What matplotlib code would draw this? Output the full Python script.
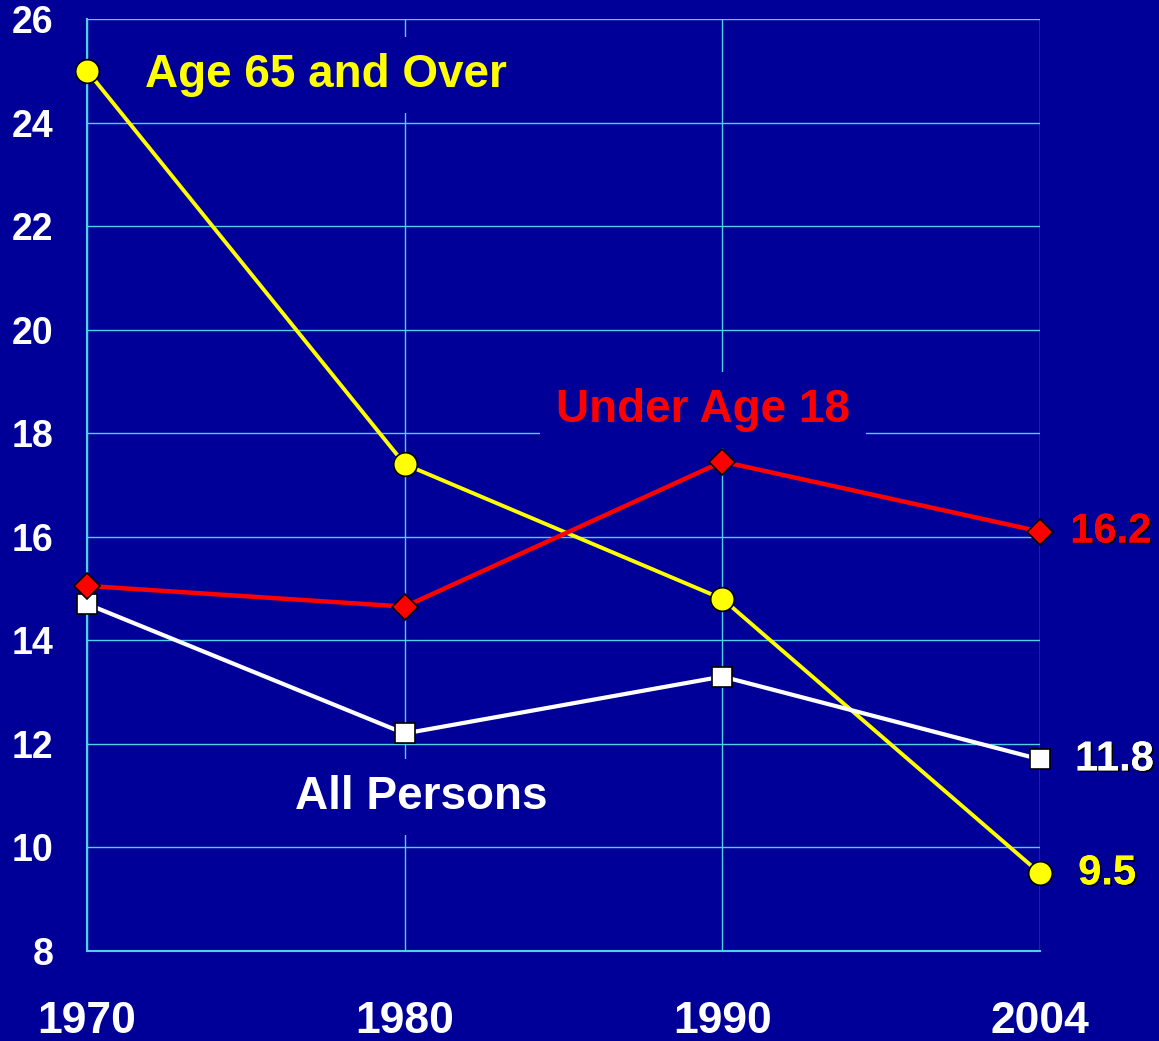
import matplotlib.pyplot as plt
import matplotlib.patheffects as pe

years = ['1970', '1980', '1990', '2004']
age65 = [25.0, 17.4, 14.8, 9.5]
under18 = [15.05, 14.65, 17.45, 16.1]
all_persons = [14.7, 12.2, 13.3, 11.7]
end_labels = ['9.5', '16.2', '11.8']

bg = '#000099'
grid_c = '#4fcfe8'

plt.rcParams['font.family'] = ['Liberation Sans', 'DejaVu Sans']
plt.rcParams['font.weight'] = 'bold'

fig = plt.figure(figsize=(11.59, 10.41), dpi=100, facecolor=bg)
ax = fig.add_axes([0.0751, 0.0865, 0.8223, 0.8953], facecolor=bg)

x = range(len(years))

# draw order: yellow, white, red
ax.plot(x, age65, color='#ffff00', lw=2.8, marker='o', ms=17,
        mfc='#ffff00', mec='black', mew=1.2, zorder=3, clip_on=False)
ax.plot(x, all_persons, color='white', lw=3.0, marker='s', ms=15,
        mfc='white', mec='black', mew=1.2, zorder=4, clip_on=False)
ax.plot(x, under18, color='#ff0000', lw=3.2, marker='D', ms=13,
        mfc='#ff0000', mec='black', mew=1.2, zorder=5, clip_on=False)

ax.set_xlim(0, 3)
ax.set_ylim(8, 26)
ax.set_xticks(list(x))
ax.set_xticklabels(years, fontsize=32, color='white', fontweight='bold')
ax.set_yticks(range(8, 27, 2))
ax.set_yticklabels([str(v) for v in range(8, 27, 2)], fontsize=27,
                   color='white', fontweight='bold')
ax.tick_params(axis='x', length=0, pad=36)
ax.tick_params(axis='y', length=0, pad=24)

ax.grid(True, color=grid_c, lw=1.0, zorder=0)
ax.set_axisbelow(True)
for side in ['top', 'right']:
    ax.spines[side].set_visible(False)
for side in ['left', 'bottom']:
    ax.spines[side].set_color(grid_c)
    ax.spines[side].set_linewidth(1.5)

box = dict(boxstyle='square,pad=0.35', facecolor=bg, edgecolor='none')
ax.text(0.183, 24.92, 'Age 65 and Over', color='#ffff00', fontsize=33,
        fontweight='bold', va='center', ha='left', bbox=box, zorder=2)
ax.text(1.476, 18.45, 'Under Age 18', color='#ff0000', fontsize=33,
        fontweight='bold', va='center', ha='left', bbox=box, zorder=2)
ax.text(0.655, 10.98, 'All Persons', color='white', fontsize=33,
        fontweight='bold', va='center', ha='left', bbox=box, zorder=2)

shadow = [pe.withSimplePatchShadow(offset=(1.2, -1.2), shadow_rgbFace='black', alpha=1.0),
          pe.Normal()]
ends = [(age65[-1], end_labels[0], '#ffff00', 0.12),
        (under18[-1], end_labels[1], '#ff0000', 0.095),
        (all_persons[-1], end_labels[2], 'white', 0.11)]
for yv, lab, col, dx in ends:
    ax.text(3 + dx, yv, lab, color=col, fontsize=30, fontweight='bold',
            va='center', ha='left', clip_on=False, path_effects=shadow)

fig.savefig('out.png', dpi=100, facecolor=bg)
